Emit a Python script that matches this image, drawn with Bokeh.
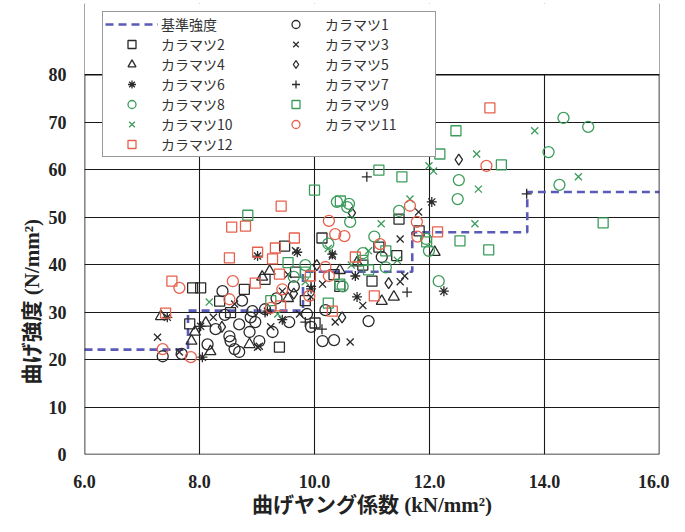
from bokeh.plotting import figure
from bokeh.models import (Legend, LegendItem, FixedTicker, CustomJSTickFormatter, Range1d,
                          BoxAnnotation, Span, Title)
from bokeh.embed import file_html
from bokeh.resources import INLINE

# ---------------- data ----------------
x_ticks = [6, 8, 10, 12, 14, 16]
x_tick_labels = ["6.0", "8.0", "10.0", "12.0", "14.0", "16.0"]
y_ticks = [0, 10, 20, 30, 40, 50, 60, 70, 80]
y_max = 80

# 基準強度 (step line)
std_x = [6.0, 7.8, 9.8, 11.7, 13.7, 16.0]
std_y = [22.1, 30.3, 38.5, 46.8, 55.3, 55.3]

k1_x = [7.36, 7.69, 8.14, 8.28, 8.40, 8.52, 8.54, 8.61, 8.69, 8.69, 8.87, 8.89, 8.92, 8.97, 9.14,
        9.27, 9.56, 9.87, 10.14, 10.34, 10.94, 9.64, 10.19, 9.34, 8.74, 11.17, 9.04, 8.44, 9.94]
k1_y = [20.7, 21.2, 23.2, 26.4, 34.4, 24.9, 23.9, 22.2, 27.4, 21.6, 25.8, 28.9, 30.2, 27.9, 30.6,
        25.8, 27.9, 29.6, 23.9, 24.1, 28.1, 35.4, 30.4, 32.9, 32.4, 41.6, 23.9, 29.4, 26.9]

k2_x = [7.83, 7.88, 8.02, 8.35, 8.78, 9.39, 9.67, 10.01, 10.13, 9.48, 11.47, 11.82, 11.43, 11.12,
        11.00, 9.14, 10.44, 10.84, 9.84, 10.34, 8.54]
k2_y = [27.5, 35.1, 35.1, 32.3, 34.8, 22.6, 38.4, 27.7, 45.6, 43.9, 49.6, 47.1, 41.9, 43.7,
        36.5, 36.9, 35.4, 39.9, 32.4, 37.9, 29.9]

k3_x = [7.27, 7.65, 8.61, 9.01, 9.67, 9.44, 9.74, 9.04, 9.94, 10.62, 10.36, 11.49, 11.57, 10.31,
        11.49, 11.81, 9.24, 10.84, 8.24, 9.54, 10.14]
k3_y = [24.7, 21.6, 31.7, 22.6, 42.9, 34.4, 29.6, 22.8, 33.2, 23.7, 27.9, 36.4, 37.6, 41.8,
        45.4, 51.1, 26.9, 31.4, 28.9, 37.9, 35.9]

k4_x = [7.33, 8.11, 7.86, 7.92, 9.22, 8.87, 8.19, 11.17, 11.38, 12.09, 9.09, 10.44, 9.54, 10.74]
k4_y = [29.1, 27.7, 23.9, 25.8, 38.6, 23.2, 21.7, 32.3, 33.2, 42.6, 37.4, 38.8, 32.9, 40.4]

k5_x = [12.51, 10.65, 11.29, 10.48, 9.64, 10.04, 8.39]
k5_y = [62.1, 50.9, 36.1, 28.9, 33.9, 39.9, 26.9]

k6_x = [8.02, 8.05, 9.01, 9.18, 10.31, 10.71, 10.74, 12.04, 12.25, 9.70, 7.44, 9.44, 9.94]
k6_y = [27.0, 20.5, 41.8, 30.2, 42.2, 37.6, 33.2, 53.2, 34.4, 42.6, 28.9, 28.4, 34.9]

k7_x = [13.69, 10.91, 11.61, 10.13, 9.14, 9.94, 9.84]
k7_y = [54.9, 58.5, 34.2, 26.4, 29.9, 35.4, 27.9]

k8_x = [14.33, 14.76, 14.07, 14.26, 12.51, 12.49, 12.16, 11.99, 10.62, 10.60, 11.47, 10.39, 10.57,
        10.24, 10.84, 11.04, 9.84, 10.49, 11.24, 9.64, 11.94]
k8_y = [70.9, 69.0, 63.7, 56.8, 57.8, 53.8, 36.5, 42.9, 49.0, 52.8, 51.3, 53.2, 52.1,
        44.4, 42.4, 45.9, 39.9, 35.4, 39.4, 37.4, 45.4]

k9_x = [12.46, 12.18, 13.25, 11.52, 15.02, 11.12, 10.00, 10.45, 12.53, 13.03, 11.95, 8.84, 9.84,
        10.44, 10.84, 11.24, 10.24, 9.54, 10.94, 9.24]
k9_y = [68.2, 63.3, 61.0, 58.5, 48.8, 59.9, 55.7, 53.4, 45.0, 43.1, 44.8, 50.4, 38.4,
        35.9, 40.9, 42.9, 31.9, 40.4, 38.9, 32.4]

k10_x = [13.83, 12.82, 11.99, 12.07, 12.85, 14.59, 12.79, 11.66, 11.16, 8.17, 9.36, 10.24, 10.64,
         11.44, 9.84, 10.94]
k10_y = [68.2, 63.3, 60.8, 59.7, 55.9, 58.5, 48.6, 53.8, 48.6, 32.1, 29.6, 43.4, 39.9,
         40.9, 36.4, 42.9]

k11_x = [7.65, 7.36, 7.85, 8.58, 8.52, 9.44, 9.91, 10.25, 10.36, 10.52, 11.14, 11.66, 11.78, 12.99,
         10.19, 10.25, 11.79, 9.24]
k11_y = [35.1, 22.2, 20.5, 36.5, 32.7, 34.8, 33.4, 49.2, 46.4, 46.0, 44.3, 52.4, 49.0, 60.8,
         39.5, 37.6, 45.9, 30.9]

k12_x = [13.05, 9.42, 8.56, 8.80, 8.52, 7.52, 7.41, 9.65, 9.32, 9.01, 8.97, 9.39, 9.41, 9.93,
         11.04, 10.31, 10.71, 12.14, 9.27]
k12_y = [73.0, 52.3, 47.9, 48.1, 41.4, 36.5, 29.8, 45.6, 43.5, 42.6, 36.1, 38.0, 31.3, 37.6,
         33.4, 30.2, 41.6, 46.9, 41.2]

names = ["カラマツ1", "カラマツ2", "カラマツ3", "カラマツ4", "カラマツ5", "カラマツ6",
         "カラマツ7", "カラマツ8", "カラマツ9", "カラマツ10", "カラマツ11", "カラマツ12"]
std_name = "基準強度"
x_title = "曲げヤング係数 (kN/mm²)"
y_title = "曲げ強度 (N/mm²)"

# ---------------- styles ----------------
BLACK = "#2a2a2a"
GREEN = "#3c9c5c"
RED = "#e8604c"
series = [
    (k1_x, k1_y, "circle", BLACK, 11),
    (k2_x, k2_y, "square", BLACK, 10),
    (k3_x, k3_y, "x", BLACK, 10),
    (k4_x, k4_y, "triangle", BLACK, 11),
    (k5_x, k5_y, "diamond", BLACK, 11),
    (k6_x, k6_y, "asterisk", BLACK, 10),
    (k7_x, k7_y, "cross", BLACK, 10),
    (k8_x, k8_y, "circle", GREEN, 11),
    (k9_x, k9_y, "square", GREEN, 10),
    (k10_x, k10_y, "x", GREEN, 10),
    (k11_x, k11_y, "circle", RED, 11),
    (k12_x, k12_y, "square", RED, 10),
]

TITLE_FONT = "Liberation Serif, Noto Sans CJK JP"

# frame extended upward (to y=95) so the legend can sit over the top edge;
# the part above y=80 is blanked out.
p = figure(width=669, height=516, x_range=Range1d(6, 16), y_range=Range1d(0, 95),
           output_backend="svg", toolbar_location=None,
           min_border_left=84, min_border_right=10, min_border_top=3, min_border_bottom=56)

p.outline_line_color = None
p.background_fill_color = "white"
p.border_fill_color = "white"

for ax in (p.xaxis[0], p.yaxis[0]):
    ax.axis_line_color = None
    ax.major_tick_line_color = None
    ax.minor_tick_line_color = None
    ax.major_label_text_font = "Liberation Serif"
    ax.major_label_text_font_style = "bold"
    ax.major_label_text_font_size = "18px"
    ax.major_label_text_color = "#222222"

p.xaxis.ticker = FixedTicker(ticks=x_ticks)
p.xaxis.formatter = CustomJSTickFormatter(
    args=dict(lbls=x_tick_labels, tvals=x_ticks),
    code="return lbls[tvals.indexOf(tick)];")
p.yaxis.ticker = FixedTicker(ticks=y_ticks)
p.xaxis.major_label_standoff = 14
p.yaxis.major_label_standoff = 12

xt = Title(text=x_title, align="center", standoff=0,
           text_font=TITLE_FONT, text_font_size="21px",
           text_font_style="bold", text_color="#222222")
p.add_layout(xt, "below")

yt = Title(text=y_title, align="left", offset=70,
           text_font=TITLE_FONT, text_font_size="21px",
           text_font_style="bold", text_color="#222222", standoff=4)
p.add_layout(yt, "left")

p.xgrid.ticker = FixedTicker(ticks=x_ticks)
p.ygrid.ticker = FixedTicker(ticks=y_ticks)
for g in (p.xgrid[0], p.ygrid[0]):
    g.grid_line_color = "#1a1a1a"
    g.grid_line_width = 1.1
    g.grid_line_alpha = 1

std_r = p.step(x=std_x, y=std_y, mode="after", line_color="#5a5ab8",
               line_width=2.6, line_dash="8 5")

renderers = []
for (xs, ys, mk, col, sz) in series:
    r = p.scatter(x=xs, y=ys, marker=mk, size=sz, line_color=col, fill_color=None,
                  line_width=1.3)
    renderers.append(r)

# frame edges
for loc in (x_ticks[0], x_ticks[-1]):
    p.add_layout(Span(location=loc, dimension="height", line_color="#111111", line_width=1.6))
p.add_layout(Span(location=0, dimension="width", line_color="#111111", line_width=1.6))
# blank everything above the top of the value axis
p.add_layout(BoxAnnotation(bottom=y_max, fill_color="white", fill_alpha=1, line_color=None))
p.add_layout(Span(location=y_max, dimension="width", line_color="#111111", line_width=1.4))

item_map = {std_name: LegendItem(label=std_name, renderers=[std_r])}
for nm, r in zip(names, renderers):
    item_map[nm] = LegendItem(label=nm, renderers=[r])
# column-major order: left column then right column
order = [std_name] + names[1::2] + names[0::2]
items = [item_map[k] for k in order]

legend = Legend(items=items, ncols=2, location=(18, 297),
                glyph_width=53, glyph_height=20, spacing=0, padding=2, margin=0,
                label_standoff=3, label_width=108,
                label_text_font="Noto Sans CJK JP", label_text_font_size="14px",
                label_text_color="#333333",
                border_line_color="#333333", border_line_width=1.2,
                background_fill_color="white", background_fill_alpha=1)
p.add_layout(legend, "center")

open("out.html", "w").write(file_html(p, INLINE))
